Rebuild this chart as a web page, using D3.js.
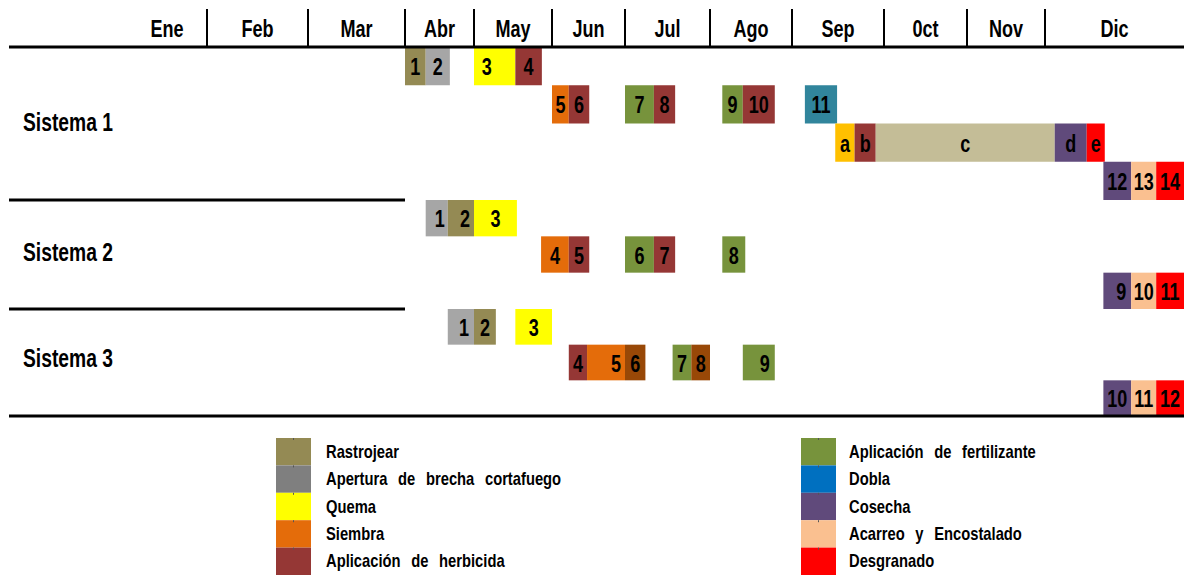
<!DOCTYPE html>
<html>
<head>
<meta charset="utf-8">
<script src="https://cdn.jsdelivr.net/npm/d3@7"></script>
<style>
  body { margin: 0; background: #fff; }
  svg text { font-family: "Liberation Sans", Arial, sans-serif; font-weight: bold; fill: #000; }
</style>
</head>
<body>
<div id="chart"></div>
<script>
// months (column headers)
let months = ["Ene", "Feb", "Mar", "Abr", "May", "Jun", "Jul", "Ago", "Sep", "0ct", "Nov", "Dic"];
let systems = ["Sistema 1", "Sistema 2", "Sistema 3"];
let systemRows = [4, 3, 3];

// legend
let activities = ["Rastrojear", "Apertura de brecha cortafuego", "Quema", "Siembra", "Aplicación de herbicida",
  "Aplicación de fertilizante", "Dobla", "Cosecha", "Acarreo y Encostalado", "Desgranado"];
let activityColors = ["#948A54", "#7F7F7F", "#FFFF00", "#E46C0A", "#953735",
  "#77933C", "#0070C0", "#604A7B", "#FAC090", "#FF0000"];

// tasks: [label, row, start month, end month, tone]  (0 = start of Ene, 12 = end of Dic)
let sistema1 = [
  ["1", 0, 3.00, 3.30, "rastrojo"], ["2", 0, 3.30, 3.65, "brecha"],
  ["3", 0, 4.00, 4.53, "quema"], ["4", 0, 4.53, 4.87, "herbicida"],
  ["5", 1, 5.00, 5.23, "siembra"], ["6", 1, 5.23, 5.51, "herbicida"],
  ["7", 1, 6.00, 6.34, "fertil"], ["8", 1, 6.34, 6.59, "herbicida"],
  ["9", 1, 7.15, 7.40, "fertil"], ["10", 1, 7.40, 7.79, "herbicida"],
  ["11", 1, 8.14, 8.49, "dobla"],
  ["a", 2, 8.47, 8.68, "oro"], ["b", 2, 8.68, 8.91, "herbicida"],
  ["c", 2, 8.91, 11.07, "caqui"], ["d", 2, 11.07, 11.30, "cosecha"],
  ["e", 2, 11.30, 11.43, "desgrano"],
  ["12", 3, 11.42, 11.62, "cosecha"], ["13", 3, 11.62, 11.80, "acarreo"],
  ["14", 3, 11.80, 12.00, "desgrano"]
];
let sistema2 = [
  ["1", 0, 3.30, 3.62, "brecha"], ["2", 0, 3.62, 4.00, "rastrojo"], ["3", 0, 4.00, 4.55, "quema"],
  ["4", 1, 4.86, 5.23, "siembra"], ["5", 1, 5.23, 5.51, "herbicida"],
  ["6", 1, 6.00, 6.34, "fertil"], ["7", 1, 6.34, 6.59, "herbicida"],
  ["8", 1, 7.15, 7.43, "fertil"],
  ["9", 2, 11.42, 11.62, "cosecha"], ["10", 2, 11.62, 11.80, "acarreo"], ["11", 2, 11.80, 12.00, "desgrano"]
];
let sistema3 = [
  ["1", 0, 3.62, 4.00, "brecha"], ["2", 0, 4.00, 4.28, "rastrojo"], ["3", 0, 4.53, 5.00, "quema"],
  ["4", 1, 5.23, 5.48, "herbicida"], ["5", 1, 5.48, 6.00, "siembra"], ["6", 1, 6.00, 6.24, "oscuro"],
  ["7", 1, 6.56, 6.78, "fertil"], ["8", 1, 6.78, 7.00, "oscuro"], ["9", 1, 7.40, 7.79, "fertil"],
  ["10", 2, 11.42, 11.62, "cosecha"], ["11", 2, 11.62, 11.80, "acarreo"], ["12", 2, 11.80, 12.00, "desgrano"]
];

let tones = {
  rastrojo: "#948A54", brecha: "#A6A6A6", quema: "#FFFF00", siembra: "#E46C0A",
  herbicida: "#953735", fertil: "#77933C", dobla: "#31859C", cosecha: "#604A7B",
  acarreo: "#FAC090", desgrano: "#FF0000", oro: "#FFC000", caqui: "#C4BD97", oscuro: "#984807"
};

// layout
let width = 1184;
let height = 575;
let monthEdges = [127, 207, 308, 405, 474, 552, 625, 710, 792, 884, 967, 1045, 1184];
let left = 9;
// narrow, slightly tall lettering like the original sheet
let narrow = 0.82;
// a few cell labels sit off-centre in the original sheet (px nudges, keyed "system-label")
let labelShift = { "0-3": -8, "1-1": 3, "1-2": 4, "1-9": 4, "2-1": 3, "2-5": 10, "2-9": 6 };
let systemLabelShift = [-1, -2, -4];

let x = d3.scaleLinear().domain(d3.range(13)).range(monthEdges);
// rows: system 1 -> 0..4, system 2 -> 4..7, system 3 -> 7..10
let y = d3.scaleLinear().domain([0, 4, 7, 10]).range([47, 200, 309, 416]);
let rowOffset = [0, 4, 7];

function place(tx, ty, sy) {
  return "translate(" + tx + "," + ty + ") scale(" + narrow + "," + sy + ")";
}

let svg = d3.select("#chart").append("svg")
  .attr("width", width)
  .attr("height", height);

// month headers
svg.append("g").selectAll("text")
  .data(months)
  .enter().append("text")
  .attr("transform", (d, i) => place((x(i) + x(i + 1)) / 2, 37, 1.1))
  .attr("text-anchor", "middle")
  .style("font-size", "22px")
  .text(d => d);

svg.append("g").selectAll("line")
  .data(d3.range(1, 12))
  .enter().append("line")
  .attr("x1", d => x(d)).attr("x2", d => x(d))
  .attr("y1", 9).attr("y2", 47)
  .attr("stroke", "#000")
  .attr("stroke-width", 2);

// task boxes
let allTasks = [sistema1, sistema2, sistema3];
allTasks.forEach(function(tasks, s) {
  let g = svg.append("g").attr("class", "sistema" + (s + 1));
  let box = g.selectAll("g")
    .data(tasks)
    .enter().append("g");
  box.append("rect")
    .attr("x", d => x(d[2]))
    .attr("width", d => x(d[3]) - x(d[2]))
    .attr("y", d => y(rowOffset[s] + d[1]))
    .attr("height", d => y(rowOffset[s] + d[1] + 1) - y(rowOffset[s] + d[1]))
    .attr("fill", d => tones[d[4]]);
  box.append("text")
    .attr("transform", d => place((x(d[2]) + x(d[3])) / 2 + (labelShift[s + "-" + d[0]] || 0),
      (y(rowOffset[s] + d[1]) + y(rowOffset[s] + d[1] + 1)) / 2 + 9, 1.12))
    .attr("text-anchor", "middle")
    .style("font-size", "22px")
    .text(d => d[0]);
});

// system labels
svg.append("g").selectAll("text")
  .data(systems)
  .enter().append("text")
  .attr("transform", (d, i) => place(23,
    (y(rowOffset[i]) + y(rowOffset[i] + systemRows[i])) / 2 + 8 + systemLabelShift[i], 1.12))
  .style("font-size", "23.5px")
  .text(d => d);

// horizontal rules
let rules = [
  { y: 47, x2: width },
  { y: 200, x2: x(3) },
  { y: 309, x2: x(3) },
  { y: 416, x2: width }
];
svg.append("g").selectAll("line")
  .data(rules)
  .enter().append("line")
  .attr("x1", left).attr("x2", d => d.x2)
  .attr("y1", d => d.y).attr("y2", d => d.y)
  .attr("stroke", "#000")
  .attr("stroke-width", 3);

// legend
let ly = d3.scaleLinear().domain([0, 5]).range([438, 575]);
let legendCols = [276, 801];
let rowH = ly(1) - ly(0);
let legend = svg.append("g").selectAll("g")
  .data(activities)
  .enter().append("g")
  .attr("transform", (d, i) => "translate(" + legendCols[Math.floor(i / 5)] + "," + ly(i % 5) + ")");
legend.append("rect")
  .attr("width", 35)
  .attr("height", rowH)
  .attr("fill", (d, i) => activityColors[i]);
legend.append("line")
  .attr("x1", 17.5).attr("x2", 17.5)
  .attr("y1", 0).attr("y2", 2)
  .attr("stroke", "#555")
  .attr("stroke-width", 1);
legend.append("text")
  .attr("transform", (d, i) => place(i < 5 ? 50 : 48, rowH / 2 + 6, 1))
  .style("font-size", "18px")
  .style("word-spacing", "8px")
  .text(d => d);
</script>
</body>
</html>
